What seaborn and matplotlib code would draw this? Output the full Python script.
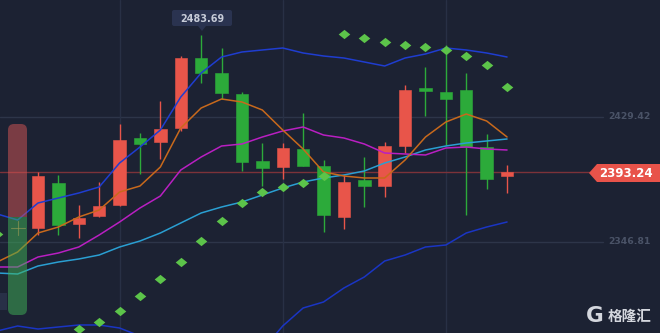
import matplotlib
matplotlib.use("Agg")
import matplotlib.pyplot as plt
import matplotlib.transforms as mtransforms
from matplotlib.patches import FancyBboxPatch, Rectangle, Polygon
import seaborn as sns
import pandas as pd

# ---------------- data ----------------
candle_idx = list(range(24))
opens = [2356.06, 2385.80, 2358.71, 2363.99, 2371.26, 2415.54, 2412.90, 2422.15,
         2468.41, 2458.50, 2444.62, 2400.34, 2396.38, 2408.27, 2397.04, 2363.33,
         2387.78, 2383.82, 2410.25, 2448.59, 2445.94, 2447.26, 2409.59, 2390.43]
highs = [2393.07, 2391.09, 2371.26, 2386.46, 2424.79, 2418.85, 2439.99, 2469.73,
         2483.69, 2475.02, 2445.94, 2412.24, 2412.24, 2432.06, 2401.00, 2391.09,
         2402.98, 2412.90, 2450.57, 2462.46, 2477.00, 2458.50, 2418.19, 2397.70]
lows = [2351.44, 2351.44, 2349.45, 2363.33, 2370.90, 2391.75, 2401.66, 2420.17,
        2451.89, 2441.32, 2393.73, 2383.82, 2388.45, 2396.90, 2353.42, 2355.40,
        2369.94, 2376.55, 2405.63, 2430.08, 2410.92, 2364.65, 2381.84, 2379.19]
closes = [2390.43, 2358.04, 2362.67, 2370.60, 2414.22, 2411.58, 2421.49, 2468.41,
          2458.50, 2445.28, 2399.68, 2395.72, 2408.93, 2397.04, 2364.65, 2386.46,
          2383.82, 2410.25, 2447.26, 2446.60, 2441.32, 2409.59, 2388.45, 2393.24]

line_idx = list(range(-2, 24))
boll_upper = [2365.32, 2361.35, 2372.58, 2375.89, 2379.19, 2383.16, 2399.02, 2409.59,
              2420.83, 2442.64, 2458.50, 2469.07, 2472.38, 2473.70, 2475.02, 2471.72,
              2469.73, 2468.41, 2465.77, 2463.12, 2468.41, 2471.06, 2475.02, 2473.70,
              2471.72, 2469.07]
ma_orange = [2333.59, 2340.20, 2352.76, 2356.72, 2363.33, 2367.96, 2379.85, 2383.82,
             2396.38, 2422.15, 2435.37, 2441.32, 2439.33, 2434.05, 2420.83, 2408.27,
             2393.07, 2390.43, 2389.11, 2389.11, 2401.00, 2416.20, 2426.12, 2431.40,
             2426.78, 2416.20]
ma_magenta = [2330.29, 2330.29, 2336.90, 2339.54, 2343.51, 2351.44, 2360.03, 2369.28,
              2377.21, 2394.39, 2402.98, 2410.25, 2411.58, 2416.20, 2420.17, 2422.81,
              2417.52, 2415.54, 2411.58, 2405.63, 2404.97, 2404.31, 2408.93, 2409.59,
              2408.27, 2407.61]
ma_cyan = [2326.32, 2325.66, 2330.95, 2333.59, 2335.58, 2338.22, 2343.51, 2347.47,
           2352.76, 2359.37, 2365.98, 2369.94, 2373.25, 2377.87, 2382.50, 2386.46,
           2389.11, 2391.09, 2393.73, 2399.02, 2402.98, 2407.61, 2410.25, 2412.24,
           2413.56, 2414.88]
boll_lower = [2287.99, 2291.30, 2289.31, 2290.64, 2291.96, 2291.96, 2289.97, 2284.69,
              2278.74, 2274.11, 2271.47, 2271.47, 2273.45, 2275.44, 2291.30, 2303.19,
              2307.16, 2316.41, 2323.68, 2334.25, 2338.22, 2343.51, 2344.83, 2352.76,
              2356.72, 2360.03]

sar_idx = [-2] + list(range(2, 24))
sar_values = [2352.10, 2289.31, 2293.94, 2301.21, 2311.12, 2322.36, 2333.59, 2347.47,
              2360.69, 2372.58, 2379.85, 2383.16, 2385.80, 2390.43, 2484.27, 2481.63,
              2478.99, 2477.00, 2475.68, 2473.70, 2469.73, 2463.79, 2449.25]

grid_levels = [2346.81, 2429.42]
grid_x = [4, 12, 20]
last_price = 2393.24
peak_price = 2483.69
peak_idx = 8

# ---------------- style ----------------
BG = "#1c2233"
RED = "#e8554a"
GREEN = "#2caa3a"
sns.set_theme(style="dark", rc={"axes.facecolor": BG, "figure.facecolor": BG})
plt.rcParams["font.family"] = ["DejaVu Sans", "Noto Sans CJK SC"]

fig = plt.figure(figsize=(6.6, 3.33), dpi=100)
ax = fig.add_axes([0, 0, 1, 1])
ax.set_facecolor(BG)
ax.set_xlim(-1.864, 30.50)
ax.set_ylim(2286.67, 2506.74)
ax.set_xticks([])
ax.set_yticks([])
for s in ax.spines.values():
    s.set_visible(False)

# grid
for g in grid_levels:
    ax.axhline(g, xmin=0, xmax=603 / 660, color="#2d3549", lw=1.0, zorder=0)
for gx in grid_x:
    ax.axvline(gx, color="#283045", lw=1.0, zorder=0)

# last price line
ax.axhline(last_price, xmin=0, xmax=590 / 660, color="#7c3239", lw=1.0, zorder=1)

# candles
df = pd.DataFrame({"i": candle_idx, "o": opens, "h": highs, "l": lows, "c": closes})
df["col"] = [RED if c >= o else GREEN for o, c in zip(df.o, df.c)]
df["bottom"] = df[["o", "c"]].min(axis=1)
df["height"] = (df.c - df.o).abs().clip(lower=0.8)
ax.vlines(df.i, df.l, df.h, colors=df.col, lw=1.0, zorder=2)
ax.bar(df.i, df.height, bottom=df.bottom, width=0.61, color=df.col, zorder=3,
       edgecolor=df.col, linewidth=0.4)

# indicator lines
lines = pd.DataFrame({"i": line_idx, "up": boll_upper, "or": ma_orange,
                      "mg": ma_magenta, "cy": ma_cyan, "lo": boll_lower})
specs = [("cy", "#2a9fd2"), ("mg", "#b91fc2"), ("or", "#c8691c"),
         ("up", "#1f3dd0"), ("lo", "#1a35c4")]
for col, c in specs:
    sns.lineplot(data=lines, x="i", y=col, ax=ax, color=c, linewidth=1.1,
                 estimator=None, sort=False, zorder=4)

# SAR diamonds
sar_df = pd.DataFrame({"i": sar_idx, "v": sar_values})
sns.scatterplot(data=sar_df, x="i", y="v", ax=ax, color="#5cc44a",
                marker=[(-1, 0), (0, 0.8), (1, 0), (0, -0.8)], s=70,
                linewidth=0, zorder=5)
ax.set_xlabel("")
ax.set_ylabel("")
if ax.get_legend():
    ax.get_legend().remove()

# right-side level labels
trans = mtransforms.blended_transform_factory(ax.transAxes, ax.transData)
for g in grid_levels:
    ax.text(629 / 660, g, f"{g:.2f}", transform=trans, ha="center", va="center",
            fontsize=6.7, fontweight="bold", color="#4a5367")

# ---------------- pixel-space decorations ----------------
ov = fig.add_axes([0, 0, 1, 1])
ov.set_xlim(0, 660)
ov.set_ylim(333, 0)
ov.axis("off")
ov.patch.set_alpha(0)

# left overlay bar (red top / green bottom)
red_bar = FancyBboxPatch((8, 124), 19, 191, boxstyle="round,pad=0,rounding_size=6",
                         fc="#d85655", ec="none", alpha=0.5, zorder=6)
ov.add_patch(red_bar)
red_bar.set_clip_path(Rectangle((0, 100), 40, 117, transform=ov.transData))
green_bar = FancyBboxPatch((8, 124), 19, 191, boxstyle="round,pad=0,rounding_size=6",
                           fc="#40b457", ec="none", alpha=0.5, zorder=7)
ov.add_patch(green_bar)
green_bar.set_clip_path(Rectangle((0, 217), 40, 120, transform=ov.transData))
ov.plot([11, 25], [228, 228], color="#9a9a55", lw=0.8, alpha=0.6, zorder=8)
ov.plot([18, 18], [221, 235], color="#9a9a55", lw=0.8, alpha=0.6, zorder=8)
ov.add_patch(Rectangle((0, 293), 7, 17, fc="#283047", ec="none", zorder=6))

# peak label
ov.add_patch(FancyBboxPatch((172, 10), 60, 16, boxstyle="round,pad=0,rounding_size=2",
                            fc="#2a3350", ec="none", zorder=9))
ov.add_patch(Polygon([(198, 26), (206, 26), (202, 31)], closed=True, fc="#2a3350",
                     ec="none", zorder=9))
ov.text(202, 18.5, f"{peak_price:.2f}", ha="center", va="center", fontsize=6.9,
        fontweight="bold", color="#c7ccd8", zorder=10)

# last price tag
ov.add_patch(Polygon([(589, 173), (597, 164), (660, 164), (660, 182), (597, 182)],
                     closed=True, fc="#e8534a", ec="none", zorder=9))
ov.text(626, 173.5, f"{last_price:.2f}", ha="center", va="center", fontsize=8.5,
        fontweight="bold", color="#ffffff", zorder=10)

# watermark
ov.text(594.5, 316.5, "G", ha="center", va="center", fontsize=15.5, fontweight="heavy",
        color="#d4d7de", zorder=10)
ov.text(630, 316, "格隆汇", ha="center", va="center", fontsize=10.5,
        family=["Noto Sans CJK SC", "DejaVu Sans"], fontweight="bold",
        color="#d4d7de", zorder=10)

fig.savefig("out.png", dpi=100, facecolor=BG)
